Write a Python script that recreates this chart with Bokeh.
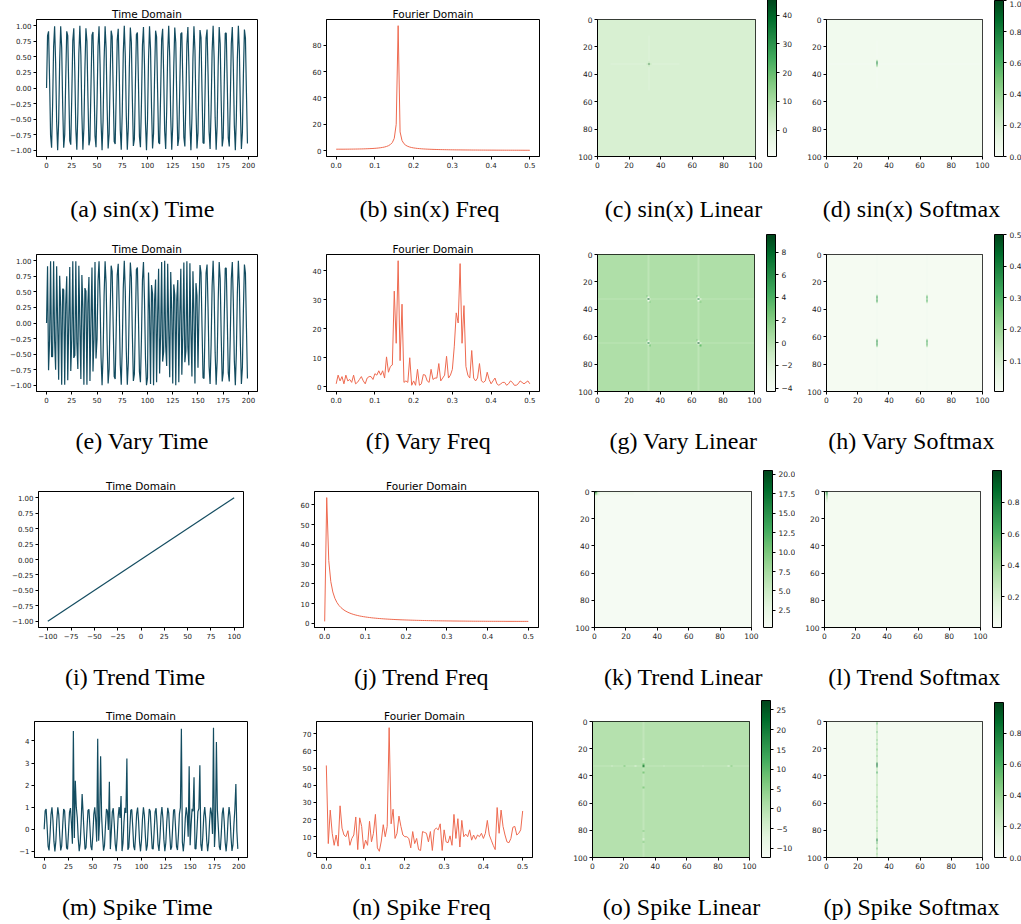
import numpy as np
from bokeh.plotting import figure
from bokeh.models import Range1d, FixedTicker, ColorBar, LinearColorMapper, Label
from bokeh.layouts import row, column
from bokeh.palettes import Greens256
from bokeh.embed import file_html
from bokeh.resources import INLINE

# ---------------- data ----------------
sin_time = [
    0.00, 0.84, 0.91, 0.14, -0.76, -0.96, -0.28, 0.66, 0.99, 0.41, -0.54, -1.00, -0.54, 0.42, 0.99, 0.65, -0.29, -0.96, -0.75, 0.15, 0.91, 0.84,
    -0.01, -0.85, -0.91, -0.13, 0.76, 0.96, 0.27, -0.66, -0.99, -0.40, 0.55, 1.00, 0.53, -0.43, -0.99, -0.64, 0.30, 0.96, 0.75, -0.16, -0.92, -0.83,
    0.02, 0.85, 0.90, 0.12, -0.77, -0.95, -0.26, 0.67, 0.99, 0.39, -0.56, -1.00, -0.52, 0.44, 0.99, 0.64, -0.31, -0.97, -0.74, 0.17, 0.92, 0.83,
    -0.03, -0.86, -0.90, -0.11, 0.77, 0.95, 0.25, -0.67, -0.99, -0.38, 0.56, 1.00, 0.51, -0.45, -0.99, -0.63, 0.32, 0.97, 0.74, -0.18, -0.93, -0.82,
    0.04, 0.86, 0.89, 0.11, -0.78, -0.95, -0.25, 0.69, 0.98, 0.38, -0.57, -1.00, -0.51, 0.45, 0.99, 0.62, -0.32, -0.97, -0.73, 0.18, 0.92, 0.82,
    -0.04, -0.87, -0.90, -0.10, 0.78, 0.95, 0.24, -0.69, -0.98, -0.37, 0.58, 1.00, 0.50, -0.46, -0.99, -0.61, 0.33, 0.97, 0.73, -0.19, -0.93, -0.81,
    0.05, 0.87, 0.89, 0.09, -0.79, -0.94, -0.23, 0.70, 0.98, 0.36, -0.58, -1.00, -0.49, 0.47, 0.99, 0.61, -0.34, -0.97, -0.72, 0.20, 0.93, 0.81,
    -0.06, -0.88, -0.89, -0.08, 0.80, 0.94, 0.22, -0.70, -0.98, -0.35, 0.59, 1.00, 0.48, -0.48, -0.99, -0.60, 0.35, 0.98, 0.71, -0.21, -0.94, -0.80,
    0.07, 0.88, 0.88, 0.07, -0.80, -0.94, -0.21, 0.71, 0.98, 0.35, -0.60, -1.00, -0.48, 0.48, 1.00, 0.60, -0.35, -0.98, -0.71, 0.22, 0.94, 0.80,
    -0.08, -0.89,
]

vary_time = [
    0.00, 0.91, -0.76, -0.28, 0.99, -0.54, -0.54, 0.99, -0.29, -0.75, 0.91, -0.01, -0.91, 0.76, 0.27, -0.99, 0.55, 0.53, -0.99, 0.30, 0.75, -0.92,
    0.02, 0.90, -0.77, -0.26, 0.99, -0.56, -0.52, 0.99, -0.31, -0.74, 0.92, -0.03, -0.90, 0.77, 0.25, -0.99, 0.56, 0.51, -0.99, 0.32, 0.74, -0.93,
    0.04, 0.89, -0.78, -0.25, 0.98, -0.57,
    -0.26, 0.67, 0.99, 0.39, -0.56, -1.00, -0.52, 0.44, 0.99, 0.64, -0.31, -0.97, -0.74, 0.17, 0.92, 0.83, -0.03, -0.86, -0.90,
    -0.11, 0.77, 0.95, 0.25, -0.67, -0.99, -0.38, 0.56, 1.00, 0.51, -0.45, -0.99, -0.63, 0.32, 0.97, 0.74, -0.18, -0.93, -0.82,
    0.04, 0.86, 0.89, 0.11, -0.78, -0.95, -0.25, 0.69, 0.98, 0.38, -0.57, -1.00,
    -0.88, 0.81, 0.20, -0.98, 0.61, 0.47, -1.00, 0.36, 0.70, -0.95,
    0.09, 0.87, -0.81, -0.19, 0.98, -0.62, -0.46, 1.00, -0.37, -0.69, 0.95, -0.10, -0.87, 0.82, 0.19, -0.97, 0.62, 0.45, -1.00, 0.38, 0.69, -0.95,
    0.11, 0.87, -0.83, -0.18, 0.97, -0.63, -0.45, 0.99, -0.39, -0.68, 0.96, -0.12, -0.86, 0.83, 0.17, -0.97, 0.64, 0.44,
    -0.72, 0.20, 0.93, 0.81, -0.06, -0.88, -0.89, -0.08, 0.80, 0.94, 0.22, -0.70, -0.98, -0.35, 0.59, 1.00, 0.48, -0.48, -0.99,
    -0.60, 0.35, 0.98, 0.71, -0.21, -0.94, -0.80,
    0.07, 0.88, 0.88, 0.07, -0.80, -0.94, -0.21, 0.71, 0.98, 0.35, -0.60, -1.00, -0.48, 0.48, 1.00, 0.60, -0.35, -0.98, -0.71, 0.22, 0.94, 0.80,
    -0.08, -0.89,
]

spike_idx = [30, 32, 39, 55, 58, 67, 79, 85, 141, 149, 154, 160, 174, 177, 197]
spike_val = [4.45, 2.2, 1.6, 4.1, 3.3, 2.15, 1.5, 3.2, 4.55, 2.85, 2.35, 2.9, 4.6, 3.95, 2.05]

trend_x = [-100, 100]
trend_y = [-1.0, 1.0]

sin_freq = [
    1.04, 1.05, 1.05, 1.06, 1.06, 1.07, 1.08, 1.10, 1.12, 1.14,
    1.16, 1.19, 1.22, 1.25, 1.29, 1.34, 1.40, 1.46, 1.53, 1.62,
    1.72, 1.84, 2.00, 2.18, 2.42, 2.72, 3.14, 3.72, 4.61, 6.14,
    9.34, 20.0, 95.0, 14.2, 7.65, 5.24, 3.98, 3.21, 2.69, 2.31,
    2.03, 1.81, 1.63, 1.49, 1.36, 1.26, 1.17, 1.09, 1.03, 0.97,
    0.91, 0.87, 0.82, 0.78, 0.75, 0.72, 0.69, 0.66, 0.63, 0.61,
    0.59, 0.57, 0.55, 0.53, 0.52, 0.50, 0.49, 0.47, 0.46, 0.45,
    0.43, 0.42, 0.41, 0.40, 0.39, 0.38, 0.38, 0.37, 0.36, 0.35,
    0.34, 0.34, 0.33, 0.32, 0.32, 0.31, 0.31, 0.30, 0.30, 0.29,
    0.28, 0.28, 0.27, 0.27, 0.27, 0.26, 0.26, 0.25, 0.25, 0.25, 0.24,
]

vary_freq = [
    1.0, 4.0, 2.0, 3.5, 1.0, 4.0, 2.0, 2.5, 1.5, 4.0,
    1.0, 1.5, 2.5, 3.5, 2.0, 1.0, 3.0, 3.5, 3.5, 2.5,
    4.5, 4.0, 5.5, 4.0, 5.5, 3.0, 10.3, 5.0, 7.0, 7.5,
    33.0, 15.0, 43.5, 9.0, 28.5, 1.5, 2.0, 1.5, 10.0, 0.5,
    2.0, 0.5, 6.0, 0.5, 1.0, 4.2, 4.0, 2.0, 1.5, 6.0,
    2.5, 3.0, 3.0, 8.0, 2.0, 3.0, 4.0, 10.5, 3.0, 4.0,
    6.0, 14.0, 25.5, 22.0, 42.5, 15.0, 28.0, 7.0, 4.0, 3.0,
    12.5, 3.0, 2.0, 3.0, 8.0, 2.0, 1.5, 2.0, 5.0, 2.5,
    1.0, 2.0, 3.0, 1.0, 0.5, 1.0, 1.5, 1.5, 0.5, 1.0,
    2.0, 1.5, 0.5, 0.5, 1.0, 2.0, 1.5, 1.0, 1.5, 2.0, 1.0,
]

trend_freq = [
    1.0, 63.7, 31.8, 21.2, 15.9, 12.7, 10.6, 9.1, 7.98, 7.10,
    6.39, 5.82, 5.34, 4.93, 4.58, 4.28, 4.02, 3.78, 3.58, 3.40,
    3.24, 3.09, 2.96, 2.83, 2.72, 2.61, 2.52, 2.43, 2.35, 2.27,
    2.20, 2.14, 2.08, 2.02, 1.97, 1.91, 1.87, 1.82, 1.78, 1.74,
    1.70, 1.67, 1.63, 1.60, 1.57, 1.54, 1.51, 1.49, 1.46, 1.44,
    1.41, 1.39, 1.37, 1.35, 1.33, 1.31, 1.30, 1.28, 1.26, 1.25,
    1.24, 1.22, 1.21, 1.19, 1.18, 1.17, 1.16, 1.15, 1.14, 1.13,
    1.12, 1.11, 1.10, 1.09, 1.08, 1.08, 1.07, 1.06, 1.06, 1.05,
    1.05, 1.04, 1.04, 1.03, 1.03, 1.03, 1.02, 1.02, 1.02, 1.01,
    1.01, 1.01, 1.01, 1.01, 1.00, 1.00, 1.00, 1.00, 1.00, 1.00, 1.00,
]

spike_freq = [
    51.5, 6.0, 25.5, 12.0, 5.0, 11.0, 4.5, 28.0, 15.0, 11.0,
    10.0, 13.5, 5.0, 9.0, 11.0, 21.5, 2.5, 21.0, 16.0, 3.0,
    8.0, 5.0, 19.0, 7.0, 12.0, 23.0, 3.5, 1.5, 7.5, 17.0,
    10.0, 16.0, 73.5, 17.5, 26.0, 9.0, 12.0, 22.0, 16.0, 11.0,
    10.0, 10.0, 9.0, 3.5, 13.0, 6.0, 9.0, 2.5, 2.0, 13.0,
    12.5, 12.0, 7.0, 13.0, 2.0, 14.0, 15.0, 14.0, 17.5, 2.0,
    14.0, 7.0, 6.5, 10.5, 5.0, 23.0, 9.0, 20.5, 4.0, 19.5,
    10.0, 11.5, 10.0, 14.0, 8.0, 11.0, 8.5, 11.0, 10.0, 12.0,
    9.0, 12.0, 19.5, 11.0, 8.0, 5.0, 2.5, 27.0, 12.0, 25.5,
    16.0, 11.0, 7.0, 6.5, 9.0, 15.5, 16.0, 11.0, 12.0, 14.0, 25.0,
]

# attention maps: background level, stripes (row/col, index, start, end, value), cells (row, col, value)
sinlin_base, sinlin_lo, sinlin_hi = 0.8, -9.2, 45.5
sinlin_stripes = [("r", 32, 8, 52, -1.0), ("c", 32, 12, 52, -1.0)]
sinlin_cells = [(32, 32, 44.0), (31, 32, 5.0), (33, 32, 5.0), (32, 31, 5.0), (32, 33, 5.0)]

sinsoft_base, sinsoft_lo, sinsoft_hi = 0.04, 0.0, 1.0
sinsoft_stripes = [("r", 32, 0, 100, 0.02), ("c", 32, 15, 50, 0.02)]
sinsoft_cells = [(29, 32, 0.2), (30, 32, 0.55), (31, 32, 0.8), (32, 32, 0.75), (33, 32, 0.5), (34, 32, 0.15)]

varylin_base, varylin_lo, varylin_hi = 0.3, -4.3, 9.56
varylin_stripes = [("r", 32, 0, 100, -0.4), ("r", 64, 0, 100, -0.4), ("c", 32, 0, 100, -0.4), ("c", 64, 0, 100, -0.4)]
varylin_cells = [
    (32, 32, 8.5), (31, 32, -3.5), (33, 32, -3.5), (32, 31, -3.5), (32, 33, -3.5), (30, 31, 3.0), (34, 33, 3.0),
    (32, 64, 7.0), (31, 64, -3.5), (33, 64, -3.5), (32, 63, -3.5), (32, 65, -3.5), (30, 63, 3.0), (34, 65, 2.0),
    (64, 32, 7.5), (63, 32, -3.5), (65, 32, -3.5), (64, 31, -3.5), (64, 33, -3.5), (62, 31, 3.0), (66, 33, 3.0),
    (64, 64, 9.0), (63, 64, -3.5), (65, 64, -3.5), (64, 63, -3.5), (64, 65, -3.5), (62, 63, 3.0), (66, 65, 3.0),
]

varysoft_base, varysoft_lo, varysoft_hi = 0.012, 0.003, 0.5
varysoft_stripes = [("c", 32, 0, 100, 0.02), ("c", 64, 0, 100, 0.02)]
varysoft_cells = [
    (29, 32, 0.12), (30, 32, 0.30), (31, 32, 0.36), (32, 32, 0.24), (33, 32, 0.36), (34, 32, 0.28), (35, 32, 0.1),
    (29, 64, 0.10), (30, 64, 0.26), (31, 64, 0.32), (32, 64, 0.20), (33, 64, 0.32), (34, 64, 0.24), (35, 64, 0.1),
    (61, 32, 0.12), (62, 32, 0.32), (63, 32, 0.38), (64, 32, 0.28), (65, 32, 0.40), (66, 32, 0.30), (67, 32, 0.1),
    (61, 64, 0.10), (62, 64, 0.28), (63, 64, 0.34), (64, 64, 0.24), (65, 64, 0.34), (66, 64, 0.26), (67, 64, 0.1),
]

trendlin_base, trendlin_lo, trendlin_hi = 0.55, 0.3, 20.5
trendlin_stripes = [("r", 0, 3, 40, 1.5), ("c", 0, 3, 40, 1.5), ("r", 1, 3, 25, 1.2), ("c", 1, 3, 25, 1.2)]
trendlin_cells = [(0, 0, 20.0), (0, 1, 9.0), (1, 0, 9.0), (1, 1, 6.0), (0, 2, 4.0), (2, 0, 4.0),
                  (2, 1, 3.0), (1, 2, 3.0), (2, 2, 2.5)]

trendsoft_base, trendsoft_lo, trendsoft_hi = 0.03, 0.006, 1.0
trendsoft_stripes = []
trendsoft_cells = [(0, 0, 0.35), (0, 1, 0.9), (1, 1, 0.75), (2, 1, 0.6), (3, 1, 0.5), (4, 1, 0.4),
                   (5, 1, 0.3), (6, 1, 0.2), (7, 1, 0.12), (1, 0, 0.2), (2, 0, 0.12)]

spikelin_base, spikelin_lo, spikelin_hi = 0.0, -12.3, 27.4
spikelin_stripes = [("r", 32, 0, 100, -2.0), ("c", 32, 0, 100, -1.5)]
spikelin_cells = [(32, 32, 24.0), (31, 32, 8.0), (33, 32, 8.0), (37, 32, 6.0), (48, 32, 5.0), (27, 32, -8.0),
                  (80, 32, 6.0), (86, 32, -8.0), (88, 32, 6.0), (32, 20, 6.0), (32, 27, -8.0), (32, 12, -8.0),
                  (32, 86, -8.0), (32, 88, 5.0), (32, 70, -6.0), (32, 45, -6.0)]

spikesoft_base, spikesoft_lo, spikesoft_hi = 0.03, 0.0, 0.996
spikesoft_stripes = [("c", 32, 0, 100, 0.3)]
spikesoft_rows = [1, 7, 13, 16, 20, 25, 30, 31, 32, 33, 37, 46, 55, 58, 62, 66, 72, 78, 80, 86, 87, 89, 93, 97]
spikesoft_vals = [0.55, 0.65, 0.55, 0.6, 0.5, 0.55, 0.8, 0.9, 0.85, 0.75, 0.65, 0.5, 0.6, 0.55, 0.5, 0.55,
                  0.5, 0.55, 0.6, 0.75, 0.8, 0.7, 0.55, 0.5]
spikesoft_cells = [(r, 32, v) for r, v in zip(spikesoft_rows, spikesoft_vals)]

captions = [
    ["(a) sin(x) Time", "(b) sin(x) Freq", "(c) sin(x) Linear", "(d) sin(x) Softmax"],
    ["(e) Vary Time", "(f) Vary Freq", "(g) Vary Linear", "(h) Vary Softmax"],
    ["(i) Trend Time", "(j) Trend Freq", "(k) Trend Linear", "(l) Trend Softmax"],
    ["(m) Spike Time", "(n) Spike Freq", "(o) Spike Linear", "(p) Spike Softmax"],
]

# ---------------- helpers ----------------
TIME_COLOR = "#134c60"
FREQ_COLOR = "#ee6a50"
GREENS = list(reversed(Greens256))
TICK_FONT = "DejaVu Sans"
MINUS = "\u2212"
COL_W = [266, 279, 250, 226]
# the heat-map frames come out inset by about this much (top, bottom) beyond their min borders
HM_INSET_TOP, HM_INSET_BOTTOM = 13, 6


def build(base, stripes, cells):
    m = np.full((100, 100), float(base))
    for kind, idx, a, b, v in stripes:
        if kind == "r":
            m[idx, a:b] = v
        else:
            m[a:b, idx] = v
    for r, c, v in cells:
        m[r, c] = v
    return m


def labels(ticks, fmt):
    return {t: fmt.format(t).replace("-", MINUS) for t in ticks}


def style_axis(ax, ticks, fmt, fs):
    ax.ticker = FixedTicker(ticks=ticks)
    ax.major_label_overrides = labels(ticks, fmt)
    ax.axis_line_color = "black"
    ax.major_tick_line_color = "black"
    ax.major_tick_out = 3
    ax.major_tick_in = 0
    ax.minor_tick_line_color = None
    ax.major_label_standoff = 2
    ax.major_label_text_font = TICK_FONT
    ax.major_label_text_font_size = fs
    ax.major_label_text_color = "#222222"


def base_fig(width, height, left, right, top, bottom, xr, yr, title=None):
    p = figure(width=width, height=height, title=title,
               min_border_left=left, min_border_right=right,
               min_border_top=top, min_border_bottom=bottom, x_range=xr, y_range=yr,
               output_backend="svg", toolbar_location=None)
    p.outline_line_color = "black"
    p.outline_line_width = 1
    p.outline_line_alpha = 1
    p.xgrid.visible = False
    p.ygrid.visible = False
    p.border_fill_color = "white"
    if title:
        p.title.align = "center"
        p.title.text_font = TICK_FONT
        p.title.text_font_size = "10.5px"
        p.title.text_font_style = "normal"
        p.title.text_color = "black"
        p.title.standoff = 0
    return p


def line_fig(y, x, color, lw, xr, yr, xt, xf, yt, yf, geom, title):
    left, fw, right, top, fh, bottom = geom
    p = base_fig(left + fw + right, top + fh + bottom, left, right, top, bottom,
                 Range1d(*xr), Range1d(*yr), title)
    p.line(x, y, line_color=color, line_width=lw)
    style_axis(p.xaxis[0], xt, xf, "7px")
    style_axis(p.yaxis[0], yt, yf, "7px")
    return p


HM = [0, 20, 40, 60, 80, 100]


def heat_fig(M, lo, hi, ct, cf, geom, row_h):
    left, fw, right, top, fh = geom
    top = max(top, HM_INSET_TOP)
    bottom = row_h - top - fh
    p = base_fig(left + fw + right, row_h, left, right, top - HM_INSET_TOP, bottom - HM_INSET_BOTTOM,
                 Range1d(0, 100), Range1d(100, 0))
    mapper = LinearColorMapper(palette=GREENS, low=lo, high=hi)
    p.image(image=[M], x=0, y=0, dw=100, dh=100, color_mapper=mapper)
    style_axis(p.xaxis[0], HM, "{:d}", "7.5px")
    style_axis(p.yaxis[0], HM, "{:d}", "7.5px")
    cb = ColorBar(color_mapper=mapper, ticker=FixedTicker(ticks=ct), major_label_overrides=labels(ct, cf),
                  location=(fw + 12, 0), width=9, height=fh, padding=0, margin=0,
                  bar_line_color="black", bar_line_width=1,
                  major_tick_line_color="black", major_tick_in=0, major_tick_out=3, label_standoff=3,
                  minor_tick_line_color=None, major_label_text_font=TICK_FONT,
                  major_label_text_font_size="7.5px", major_label_text_color="#222222",
                  background_fill_alpha=0, border_line_color=None)
    p.add_layout(cb)
    return p


def caption_strip(texts, centers, height, cy):
    figs = []
    for w, t, cx in zip(COL_W, texts, centers):
        c = figure(width=w, height=height, x_range=Range1d(0, w), y_range=Range1d(0, height),
                   min_border=0, title=None, toolbar_location=None, output_backend="svg",
                   x_axis_location=None, y_axis_location=None)
        c.outline_line_color = None
        c.grid.visible = False
        c.add_layout(Label(x=cx, y=height - cy, text=t, text_align="center", text_baseline="middle",
                           text_font="Liberation Serif", text_font_size="24px", text_color="black"))
        figs.append(c)
    return row(*figs)


# ---------------- figures ----------------
time_x = list(range(len(sin_time)))
spike_time = list(sin_time)
for i, v in zip(spike_idx, spike_val):
    spike_time[i] = v


def fx(series):
    return [k * 0.005 for k in range(len(series))]


TX = [0, 25, 50, 75, 100, 125, 150, 175, 200]
TY = [-1.0, -0.75, -0.5, -0.25, 0.0, 0.25, 0.5, 0.75, 1.0]
FXT = [0.0, 0.1, 0.2, 0.3, 0.4, 0.5]
TXR = (-9.95, 208.95)
FXR = (-0.025, 0.525)

# line geometry: (left, frame_w, right, top, frame_h, bottom); heat geometry: (left, frame_w, right, top, frame_h)
# row 1: plots 190 px + caption strip 40 px
pa = line_fig(sin_time, time_x, TIME_COLOR, 1.2, TXR, (-1.1, 1.1), TX, "{:d}", TY, "{:.2f}",
              (36, 221, 9, 13, 143, 34), "Time Domain")
pb = line_fig(sin_freq, fx(sin_freq), FREQ_COLOR, 1.0, FXR, (-4.5, 99.7), FXT, "{:.1f}", [0, 20, 40, 60, 80], "{:d}",
              (60, 213, 6, 19, 138, 33), "Fourier Domain")
pc = heat_fig(build(sinlin_base, sinlin_stripes, sinlin_cells), sinlin_lo, sinlin_hi, [0, 10, 20, 30, 40], "{:d}",
              (52, 158, 40, 5, 157), 190)
pd = heat_fig(build(sinsoft_base, sinsoft_stripes, sinsoft_cells), sinsoft_lo, sinsoft_hi,
              [0.0, 0.2, 0.4, 0.6, 0.8, 1.0], "{:.1f}", (31, 156, 39, 6, 156), 190)

# row 2: plots 192 px + caption strip 38 px
pe = line_fig(vary_time, time_x, TIME_COLOR, 1.2, TXR, (-1.1, 1.1), TX, "{:d}", TY, "{:.2f}",
              (36, 221, 9, 18, 143, 31), "Time Domain")
pf = line_fig(vary_freq, fx(vary_freq), FREQ_COLOR, 1.0, FXR, (-1.65, 45.65), FXT, "{:.1f}", [0, 10, 20, 30, 40], "{:d}",
              (60, 213, 6, 24, 138, 30), "Fourier Domain")
pg = heat_fig(build(varylin_base, varylin_stripes, varylin_cells), varylin_lo, varylin_hi,
              [-4, -2, 0, 2, 4, 6, 8], "{:d}", (52, 157, 41, 11, 157), 192)
ph = heat_fig(build(varysoft_base, varysoft_stripes, varysoft_cells), varysoft_lo, varysoft_hi,
              [0.1, 0.2, 0.3, 0.4, 0.5], "{:.1f}", (31, 156, 39, 11, 157), 192)

# row 3: plots 199 px + caption strip 31 px
pi = line_fig(trend_y, trend_x, TIME_COLOR, 1.2, (-110, 110), (-1.1, 1.1), [-100, -75, -50, -25, 0, 25, 50, 75, 100], "{:d}",
              TY, "{:.2f}", (38, 205, 23, 31, 136, 32), "Time Domain")
pj = line_fig(trend_freq, fx(trend_freq), FREQ_COLOR, 1.0, FXR, (-2.1, 66.8), FXT, "{:.1f}", [0, 10, 20, 30, 40, 50, 60], "{:d}",
              (48, 224, 7, 23, 144, 32), "Fourier Domain")
pk = heat_fig(build(trendlin_base, trendlin_stripes, trendlin_cells), trendlin_lo, trendlin_hi,
              [2.5, 5.0, 7.5, 10.0, 12.5, 15.0, 17.5, 20.0], "{:.1f}", (49, 157, 44, 16, 157), 199)
pl = heat_fig(build(trendsoft_base, trendsoft_stripes, trendsoft_cells), trendsoft_lo, trendsoft_hi,
              [0.2, 0.4, 0.6, 0.8], "{:.1f}", (29, 156, 41, 16, 157), 199)

# row 4: plots 202 px + caption strip 30 px
pm = line_fig(spike_time, time_x, TIME_COLOR, 1.2, TXR, (-1.28, 4.88), TX, "{:d}", [-1, 0, 1, 2, 3, 4], "{:d}",
              (34, 213, 19, 31, 138, 33), "Time Domain")
pn = line_fig(spike_freq, fx(spike_freq), FREQ_COLOR, 1.0, FXR, (-2.1, 77.1), FXT, "{:.1f}", [0, 10, 20, 30, 40, 50, 60, 70], "{:d}",
              (50, 216, 13, 28, 139, 35), "Fourier Domain")
po = heat_fig(build(spikelin_base, spikelin_stripes, spikelin_cells), spikelin_lo, spikelin_hi,
              [-10, -5, 0, 5, 10, 15, 20, 25], "{:d}", (47, 157, 46, 17, 157), 202)
pp = heat_fig(build(spikesoft_base, spikesoft_stripes, spikesoft_cells), spikesoft_lo, spikesoft_hi,
              [0.0, 0.2, 0.4, 0.6, 0.8], "{:.1f}", (31, 156, 39, 19, 155), 202)

cap1 = caption_strip(captions[0], [142, 163, 138, 116], 40, 18)
cap2 = caption_strip(captions[1], [142, 162, 138, 116], 38, 18)
cap3 = caption_strip(captions[2], [135, 155, 138, 119], 31, 17)
cap4 = caption_strip(captions[3], [137, 155, 136, 116], 30, 14)

layout = column(row(pa, pb, pc, pd), cap1,
                row(pe, pf, pg, ph), cap2,
                row(pi, pj, pk, pl), cap3,
                row(pm, pn, po, pp), cap4)

open("out.html", "w").write(file_html(layout, INLINE))
